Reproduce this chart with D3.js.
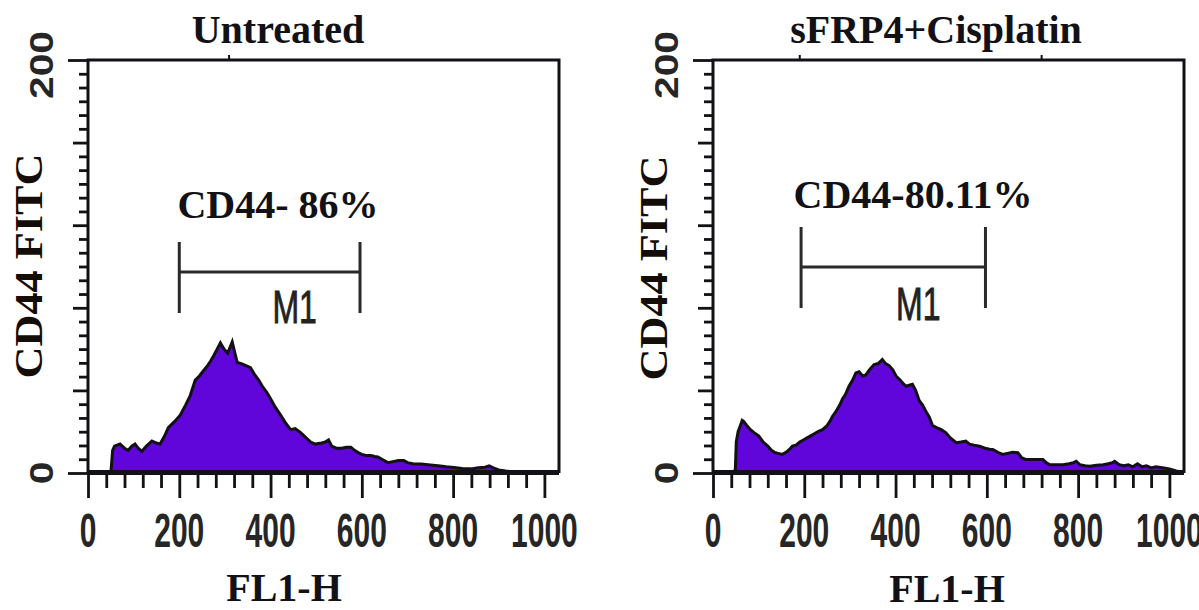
<!DOCTYPE html>
<html>
<head>
<meta charset="utf-8">
<script src="https://cdn.jsdelivr.net/npm/d3@7"></script>
<style>
  html, body { margin: 0; padding: 0; background: #ffffff; }
  svg { display: block; }
</style>
</head>
<body>
<svg id="chart" width="1199" height="610"></svg>
<script>
// ---- data ----
const panelTitles = ["Untreated", "sFRP4+Cisplatin"];
const gateLabels = ["CD44- 86%", "CD44-80.11%"];
const markerName = "M1";
const markerRanges = [[200, 596], [193, 597]];
const xAxisTitle = "FL1-H";
const yAxisTitle = "CD44 FITC";
const xMajorTicks = [0, 200, 400, 600, 800, 1000];
const yLabelTicks = [0, 200];
const yMidTicks = [40, 80, 120, 160];
const topMarks = [[308], [189, 719]];

// histogram outlines: [channel, events]
const untreatedHist = [
  [0,0],[50,0],[54,11],[58,13],[70,14],[80,12],[88,11],[96,13],[103,14],[110,12],
  [118,10.5],[128,13],[140,15.5],[150,14.5],[158,14],[168,18],[176,22],[190,25],
  [202,28],[214,33],[224,37.5],[235,45],[244,47],[253,49.5],[262,52],[268,54],
  [276,57],[283,60],[290,63],[298,60],[306,58],[316,63.5],[322,58],[327,53.5],
  [336,53],[346,52],[356,51],[364,48],[374,45],[382,42],[392,39],[400,36],
  [410,32],[422,28],[432,24.5],[444,21],[454,21.5],[466,19.5],[478,17],[488,15],
  [498,14],[512,14.5],[520,15],[527,16],[534,13],[544,12],[556,12],[566,12.5],
  [576,12.5],[584,11],[591,10],[600,9],[609,8.5],[620,8.5],[628,8],[635,7.8],
  [645,6.5],[657,5],[668,5.5],[680,6],[692,6],[700,5],[712,4.5],[730,4.4],
  [745,4],[767,3.5],[785,3],[802,2.7],[820,2.2],[840,2],[855,2.5],[870,2.8],
  [879,3.5],[888,2.5],[900,1.5],[915,1],[935,0.5],[950,0],[1032,0]
];
const sfrp4CisplatinHist = [
  [0,0],[46,0],[49,2],[51,15],[55,20],[60,23],[64,25.5],[67,25],[74,23],[82,21],
  [90,19.5],[100,18],[110,15],[120,13],[128,11],[135,10],[143,9.5],[152,9],
  [160,10],[168,11.5],[174,13],[182,13.5],[190,15],[198,16],[206,17],[214,18],
  [222,19],[230,20],[240,21],[250,23],[256,25],[262,27.5],[270,30],[278,33],
  [284,36],[290,38],[298,42],[306,45],[313,48.5],[320,49],[328,47],[335,47.5],
  [343,50],[353,52.5],[362,53],[371,55],[378,53],[386,52],[394,50],[401,47],
  [410,45],[418,43],[423,42],[430,42.5],[437,43],[444,40],[452,35],[459,33],
  [466,30],[474,27],[481,23],[490,22],[500,21],[510,19.5],[520,17],[533,14.7],
  [543,15],[554,15.4],[562,14],[572,13.5],[584,13],[596,12],[606,11.5],[613,11.4],
  [624,10],[635,9],[645,9.5],[656,10],[668,9.8],[676,7.5],[686,6.5],[700,6.5],
  [712,6.5],[723,6.5],[730,5],[738,4],[752,4],[767,4],[780,4.5],[790,5],[796,5.7],
  [804,4],[815,3.5],[826,3.3],[840,3.8],[855,4],[866,4.5],[875,5],[880,5.7],
  [890,4],[900,3.5],[910,4],[920,3],[930,4.5],[940,3],[950,3.5],[960,2.5],
  [970,3],[985,2.5],[1000,2],[1015,1],[1032,0]
];
const histograms = [untreatedHist, sfrp4CisplatinHist];

// ---- layout ----
const serif = "'Liberation Serif','Times New Roman',serif";
const sans = "'Liberation Sans',Arial,sans-serif";
const ink = "#111116";
const fillPurple = "#6006da";
const plotTop = 60, plotBottom = 473, plotWidth = 471;
const panels = [
  { ox: 88,  titleX: 278, gateX: 278, gateY: 218, markerY: 272, markerTop: 242, markerBottom: 313, m1Y: 323, xTitleX: 284, xTitleY: 601, yTitleY: 266 },
  { ox: 713, titleX: 936, gateX: 913, gateY: 208, markerY: 267, markerTop: 227, markerBottom: 308, m1Y: 320, xTitleX: 947, xTitleY: 602, yTitleY: 268 }
];

const svg = d3.select("#chart");

panels.forEach((p, i) => {
  const g = svg.append("g");
  const x = d3.scaleLinear().domain([0, 1032]).range([p.ox, p.ox + plotWidth]);
  const y = d3.scaleLinear().domain([0, 200]).range([plotBottom, plotTop]);
  const data = histograms[i];

  // filled histogram
  g.append("path")
    .datum(data)
    .attr("fill", fillPurple)
    .attr("d", d3.area().x(d => x(d[0])).y0(y(0)).y1(d => y(d[1])));
  g.append("path")
    .datum(data)
    .attr("fill", "none")
    .attr("stroke", ink)
    .attr("stroke-width", 3)
    .attr("stroke-linejoin", "miter")
    .attr("d", d3.line().x(d => x(d[0])).y(d => y(d[1])));

  // frame: heavy baseline plus left/top/right borders
  g.append("line")
    .attr("x1", x(0)).attr("x2", x(1032))
    .attr("y1", y(0) - 0.5).attr("y2", y(0) - 0.5)
    .attr("stroke", ink).attr("stroke-width", 5);
  g.append("path")
    .attr("d", `M${x(0)},${y(0)}V${y(200)}H${x(1032)}V${y(0)}`)
    .attr("fill", "none").attr("stroke", ink).attr("stroke-width", 3);

  // x ticks
  const xMinor = d3.range(0, 1001, 40).filter(v => v % 200 !== 0);
  const gxMinor = g.append("g").attr("transform", `translate(0,${plotBottom + 1})`)
    .call(d3.axisBottom(x).tickValues(xMinor).tickSize(14).tickFormat(""));
  const gxMajor = g.append("g").attr("transform", `translate(0,${plotBottom + 1})`)
    .call(d3.axisBottom(x).tickValues(xMajorTicks).tickSize(24).tickFormat(""));
  [gxMinor, gxMajor].forEach(a => {
    a.select(".domain").remove();
    a.selectAll(".tick line").attr("stroke", ink).attr("stroke-width", 2.8);
  });

  // x tick labels (tall, narrow numerals)
  g.selectAll(".xlab").data(xMajorTicks).enter().append("text")
    .attr("transform", d => `translate(${x(d)},547) scale(1,1.6)`)
    .attr("text-anchor", "middle")
    .attr("font-family", sans).attr("font-weight", "bold").attr("font-size", 30)
    .attr("fill", "#262626")
    .text(d => d);

  // y ticks
  const yMinor = d3.range(0, 200.01, 40 / 6).filter(v => Math.abs(v / 40 - Math.round(v / 40)) > 1e-6);
  const gyMinor = g.append("g").attr("transform", `translate(${p.ox},0)`)
    .call(d3.axisLeft(y).tickValues(yMinor).tickSize(9).tickFormat(""));
  const gyMid = g.append("g").attr("transform", `translate(${p.ox},0)`)
    .call(d3.axisLeft(y).tickValues(yMidTicks).tickSize(15).tickFormat(""));
  const gyMajor = g.append("g").attr("transform", `translate(${p.ox},0)`)
    .call(d3.axisLeft(y).tickValues(yLabelTicks).tickSize(20).tickFormat(""));
  [gyMinor, gyMid, gyMajor].forEach(a => {
    a.select(".domain").remove();
    a.selectAll(".tick line").attr("stroke", ink).attr("stroke-width", 2.8);
  });

  // rotated y tick labels
  g.selectAll(".ylab").data(yLabelTicks).enter().append("text")
    .attr("transform", d => `translate(${p.ox - 35},${y(d) + (d === 200 ? 5 : 0)}) rotate(-90) scale(1.2,1)`)
    .attr("text-anchor", "middle")
    .attr("font-family", sans).attr("font-weight", "bold").attr("font-size", 34)
    .attr("fill", "#262626")
    .text(d => d);

  // small marks above the top border
  const gt = g.append("g").attr("transform", `translate(0,${plotTop - 1})`)
    .call(d3.axisTop(x).tickValues(topMarks[i]).tickSize(4).tickFormat(""));
  gt.select(".domain").remove();
  gt.selectAll(".tick line").attr("stroke", ink).attr("stroke-width", 2);

  // titles
  g.append("text")
    .attr("x", p.titleX).attr("y", 43)
    .attr("text-anchor", "middle")
    .attr("font-family", serif).attr("font-weight", "bold").attr("font-size", 40)
    .attr("fill", ink)
    .text(panelTitles[i]);

  g.append("text")
    .attr("x", p.xTitleX).attr("y", p.xTitleY)
    .attr("text-anchor", "middle")
    .attr("font-family", serif).attr("font-weight", "bold").attr("font-size", 40)
    .attr("fill", ink)
    .text(xAxisTitle);

  g.append("text")
    .attr("transform", `translate(${p.ox - 46},${p.yTitleY}) rotate(-90) scale(1.08,1)`)
    .attr("text-anchor", "middle")
    .attr("font-family", serif).attr("font-weight", "bold").attr("font-size", 41)
    .attr("fill", "#140c06")
    .text(yAxisTitle);

  // gate percentage
  g.append("text")
    .attr("x", p.gateX).attr("y", p.gateY)
    .attr("text-anchor", "middle")
    .attr("font-family", serif).attr("font-weight", "bold").attr("font-size", 40)
    .attr("fill", ink)
    .text(gateLabels[i]);

  // M1 marker bracket
  const [m0, m1] = markerRanges[i];
  const mk = g.append("g").attr("stroke", "#2a2a2a").attr("stroke-width", 3).attr("fill", "none");
  mk.append("line").attr("x1", x(m0)).attr("x2", x(m1)).attr("y1", p.markerY).attr("y2", p.markerY);
  mk.append("line").attr("x1", x(m0)).attr("x2", x(m0)).attr("y1", p.markerTop).attr("y2", p.markerBottom);
  mk.append("line").attr("x1", x(m1)).attr("x2", x(m1)).attr("y1", p.markerTop).attr("y2", p.markerBottom);
  g.append("text")
    .attr("transform", `translate(${(x(m0) + x(m1)) / 2 + 25},${p.m1Y}) scale(1,1.45)`)
    .attr("text-anchor", "middle")
    .attr("font-family", sans).attr("font-size", 32)
    .attr("fill", "#222").attr("stroke", "#222").attr("stroke-width", 0.6)
    .text(markerName);
});
</script>
</body>
</html>
